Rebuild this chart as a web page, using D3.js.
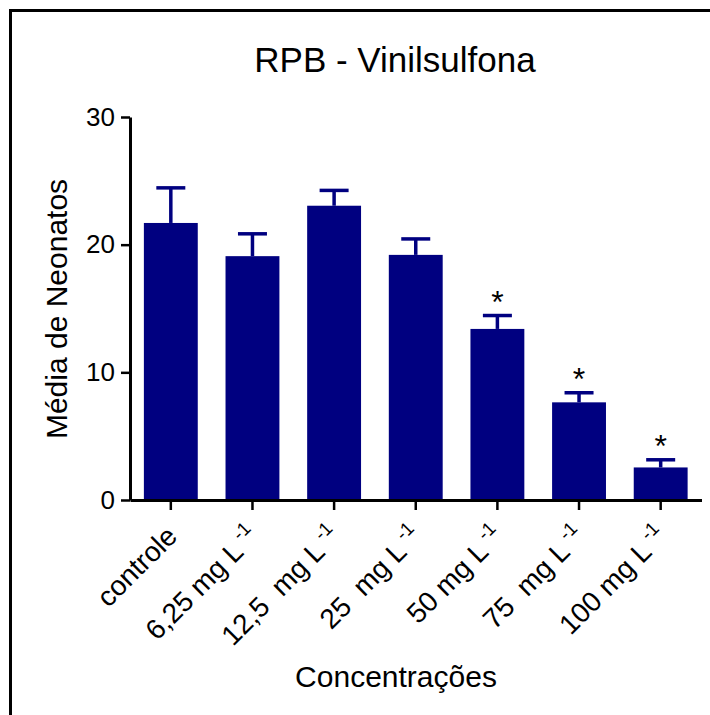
<!DOCTYPE html>
<html>
<head>
<meta charset="utf-8">
<script src="https://cdn.jsdelivr.net/npm/d3@7"></script>
<style>
  html, body { margin: 0; padding: 0; background: #fff; }
  svg { display: block; font-family: Arial, "Liberation Sans", sans-serif; }
</style>
</head>
<body>
<svg id="chart" width="710" height="715"></svg>
<script>
// Mean number of neonates per concentration group, with SEM
const categories = ["controle", "6,25", "12,5", "25", "50", "75", "100"];
const labelPrefix = ["controle", "6,25 mg L", "12,5  mg L", "25  mg L", "50 mg L", "75  mg L", "100 mg L"];
const labelSuper = ["", "-1", "-1", "-1", "-1", "-1", "-1"];
const means = [21.7, 19.1, 23.05, 19.2, 13.4, 7.65, 2.55];
const sem = [2.75, 1.75, 1.2, 1.25, 1.05, 0.75, 0.6];
const significant = [false, false, false, false, true, true, true];
const yTicks = [0, 10, 20, 30];

const barColor = "#000080";
const svg = d3.select("#chart");

// frame
svg.append("path")
  .attr("d", "M10.5,715V10.5H710")
  .attr("fill", "none").attr("stroke", "#000").attr("stroke-width", 3);

const x = d3.scaleBand().domain(categories).range([130, 701.5])
  .paddingInner(0.34).paddingOuter(0.17);
const y = d3.scaleLinear().domain([0, 30]).range([500, 117]);

// bars
const data = categories.map((c, i) => ({ c, m: means[i], e: sem[i], s: significant[i] }));
svg.append("g").selectAll("rect").data(data).join("rect")
  .attr("x", d => x(d.c)).attr("width", x.bandwidth())
  .attr("y", d => y(d.m)).attr("height", d => y(0) - y(d.m))
  .attr("fill", barColor);

// error bars (upper)
const eb = svg.append("g").attr("stroke", barColor).attr("stroke-width", 3.5).attr("fill", "none");
data.forEach(d => {
  const cx = x(d.c) + x.bandwidth() / 2;
  eb.append("line").attr("x1", cx).attr("x2", cx).attr("y1", y(d.m)).attr("y2", y(d.m + d.e));
  eb.append("line").attr("x1", cx - 14.5).attr("x2", cx + 14.5).attr("y1", y(d.m + d.e)).attr("y2", y(d.m + d.e));
});

// significance markers
svg.append("g").selectAll("text").data(data.filter(d => d.s)).join("text")
  .attr("x", d => x(d.c) + x.bandwidth() / 2)
  .attr("y", d => y(d.m + d.e) - 3)
  .attr("text-anchor", "middle").attr("font-size", 32).attr("fill", "#000")
  .text("*");

// y axis
const yAxis = svg.append("g").attr("transform", "translate(130,0)")
  .call(d3.axisLeft(y).tickValues(yTicks).tickSize(9).tickPadding(6).tickSizeOuter(0));
yAxis.select(".domain").attr("stroke-width", 3);
yAxis.selectAll(".tick line").attr("stroke-width", 2.5);
yAxis.selectAll(".tick text").attr("font-size", 26).attr("font-family", "Arial, 'Liberation Sans', sans-serif").attr("fill", "#000");

// x axis
const xAxis = svg.append("g").attr("transform", "translate(0,500)")
  .call(d3.axisBottom(x).tickSize(10).tickSizeOuter(0).tickFormat(""));
xAxis.select(".domain").attr("stroke-width", 3);
xAxis.selectAll(".tick line").attr("stroke-width", 2.5);

// rotated category labels
const lab = svg.append("g").selectAll("text").data(categories).join("text")
  .attr("transform", c => `translate(${x(c) + x.bandwidth() / 2 + 8},538) rotate(-45)`)
  .attr("text-anchor", "end").attr("font-size", 28).attr("fill", "#000")
  .style("white-space", "pre");
lab.each(function(c, i) {
  const t = d3.select(this);
  t.append("tspan").text(labelPrefix[i]);
  if (labelSuper[i]) {
    t.append("tspan").attr("dx", 5).attr("dy", -12).attr("font-size", 19).text(labelSuper[i]);
  }
});

// titles
svg.append("text").attr("x", 395).attr("y", 72).attr("text-anchor", "middle")
  .attr("font-size", 35).attr("fill", "#000").text("RPB - Vinilsulfona");
svg.append("text").attr("transform", "translate(67,309) rotate(-90)").attr("text-anchor", "middle")
  .attr("font-size", 30).attr("fill", "#000").text("Média de Neonatos");
svg.append("text").attr("x", 396).attr("y", 687).attr("text-anchor", "middle")
  .attr("font-size", 30).attr("fill", "#000").text("Concentrações");
</script>
</body>
</html>
